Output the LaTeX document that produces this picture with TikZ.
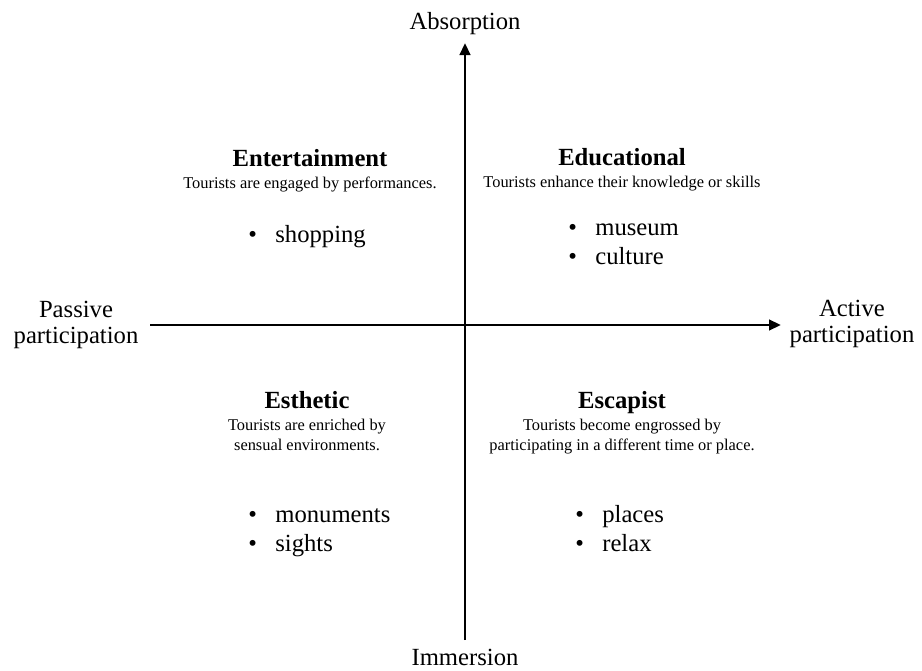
\documentclass[tikz,border=0pt]{standalone}
\usepackage{fontspec}
\setmainfont{Liberation Serif}
\usetikzlibrary{arrows.meta}

\tikzset{
	axis/.style={line width=2.2pt, -{Triangle[length=9pt,width=7.8pt]}},
	big/.style={font=\fontsize{18.5}{19.5}\selectfont, align=center, anchor=base, inner sep=0pt},
	head/.style={font=\fontsize{18.5}{20}\selectfont\bfseries, anchor=base, inner sep=0pt},
	sub/.style={font=\fontsize{12.3}{15}\selectfont, align=center, anchor=base, inner sep=0pt},
	items/.style={font=\fontsize{18.5}{21.4}\selectfont, align=left, anchor=base west, inner sep=0pt},
}
\newcommand{\itm}[1]{\makebox[20.3pt][l]{\textbullet}#1}

\begin{document}
\begin{tikzpicture}[x=0.75pt,y=-0.75pt]
\useasboundingbox (0,0) rectangle (922,671);

% 两条坐标轴
\coordinate (S) at (465,640);
\coordinate (N) at (465,43);
\coordinate (W) at (150,325);
\coordinate (E) at (781,325);
\draw [axis] (S) -- (N);
\draw [axis] (W) -- (E);

% 多行节点的 base 是最后一行的基线
\node [big] (absorption) at (465,30) {Absorption};
\node [big] (immersion) at (465,665) {Immersion};
\node [big] (passive) at (76,343) {Passive\\participation};
\node [big] (active) at (852,342) {Active\\participation};

% 四个象限
\node [head] (ent) at (310,166) {Entertainment};
\node [sub] (entsub) at (310,188) {Tourists are engaged by performances.};
\node [items] (entlist) at (248,242) {\itm{shopping}};

\node [head] (edu) at (622,165) {Educational};
\node [sub] (edusub) at (622,187) {Tourists enhance their knowledge or skills};
\node [items] (edulist) at (568,264) {\itm{museum}\\\itm{culture}};

\node [head] (est) at (307,408) {Esthetic};
\node [sub] (estsub) at (307,450) {Tourists are enriched by\\sensual environments.};
\node [items] (estlist) at (248,551) {\itm{monuments}\\\itm{sights}};

\node [head] (esc) at (622,408) {Escapist};
\node [sub] (escsub) at (622,450) {Tourists become engrossed by\\participating in a different time or place.};
\node [items] (esclist) at (575,551) {\itm{places}\\\itm{relax}};

\end{tikzpicture}
\end{document}
